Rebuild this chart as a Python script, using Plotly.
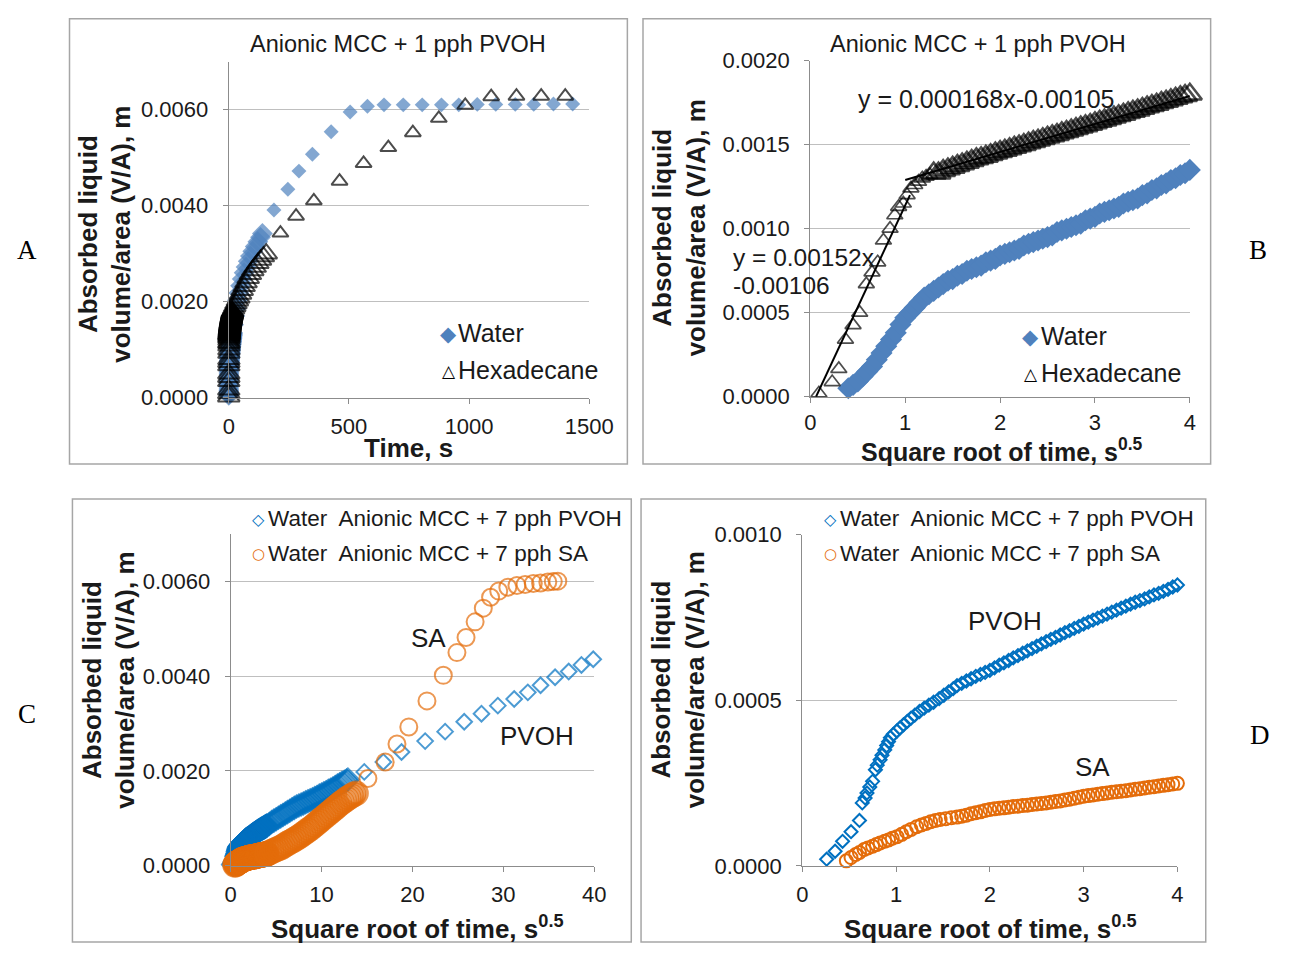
import plotly.graph_objects as go

W, H = 1304, 957
SANS = "Liberation Sans, Arial, sans-serif"
SERIF = "Liberation Serif, Times New Roman, serif"
SYMF = "DejaVu Sans"
TXT = "#1a1a1a"
AXIS = "#8c8c8c"
GRID = "#bfbfbf"
BOX = "#a6a6a6"
C_WATER = "#4f81bd"
C_PVOH = "#0070c0"
C_SA = "#e46c0a"

# ---------------- Anionic MCC + 1 pph PVOH ----------------
# first 16 s of the run, on a square-root-of-time axis
hex_sqrt_t = [0.09, 0.23, 0.30, 0.37, 0.45, 0.52, 0.59, 0.65, 0.71, 0.77, 0.84, 0.89,
              0.93, 0.98, 1.02, 1.06, 1.10, 1.14, 1.18, 1.22, 1.26, 1.30,
              1.35, 1.40, 1.45, 1.50, 1.55, 1.60, 1.65, 1.70, 1.75, 1.80, 1.85, 1.90,
              1.95, 2.00, 2.05, 2.10, 2.15, 2.20, 2.25, 2.30, 2.35, 2.40, 2.45, 2.50,
              2.55, 2.60, 2.65, 2.70, 2.75, 2.80, 2.85, 2.90, 2.95, 3.00, 3.05, 3.10,
              3.15, 3.20, 3.25, 3.30, 3.35, 3.40, 3.45, 3.50, 3.55, 3.60, 3.65, 3.70,
              3.75, 3.80, 3.85, 3.90, 3.95, 4.00]
hex_va = [0.00002, 0.000087, 0.000165, 0.00034, 0.000426, 0.0005, 0.00067, 0.00074,
          0.0008, 0.00093, 0.001, 0.00108, 0.00113, 0.00115, 0.0012, 0.00124, 0.00126,
          0.00128, 0.0013, 0.00131, 0.00132, 0.00133,
          0.00133, 0.001345, 0.001355, 0.001365, 0.001375, 0.001385, 0.001395, 0.001405,
          0.001415, 0.001422, 0.00143, 0.00144, 0.00145, 0.001458, 0.001466, 0.001475,
          0.001484, 0.001492, 0.0015, 0.00151, 0.001518, 0.001526, 0.001535, 0.001544,
          0.001552, 0.00156, 0.00157, 0.001578, 0.001586, 0.001595, 0.001604, 0.001612,
          0.00162, 0.00163, 0.001638, 0.001646, 0.001655, 0.001664, 0.001672, 0.00168,
          0.00169, 0.001698, 0.001706, 0.001715, 0.001724, 0.001732, 0.00174, 0.00175,
          0.001758, 0.001766, 0.001775, 0.001784, 0.001792, 0.0018]

water_sqrt_t = [0.40, 0.45, 0.50, 0.55, 0.60, 0.65, 0.70, 0.75, 0.80, 0.85, 0.90, 0.95,
                1.00, 1.05, 1.10, 1.15, 1.20, 1.25, 1.30, 1.35, 1.40, 1.45, 1.50, 1.55,
                1.60, 1.65, 1.70, 1.75, 1.80, 1.85, 1.90, 1.95, 2.00, 2.05, 2.10, 2.15,
                2.20, 2.25, 2.30, 2.35, 2.40, 2.45, 2.50, 2.55, 2.60, 2.65, 2.70, 2.75,
                2.80, 2.85, 2.90, 2.95, 3.00, 3.05, 3.10, 3.15, 3.20, 3.25, 3.30, 3.35,
                3.40, 3.45, 3.50, 3.55, 3.60, 3.65, 3.70, 3.75, 3.80, 3.85, 3.90, 3.95, 4.00]
water_va = [0.00005, 0.00007, 0.00009, 0.00012, 0.00015, 0.00018, 0.00022, 0.00026,
            0.0003, 0.00034, 0.00038, 0.00043, 0.00047, 0.0005, 0.00053, 0.00056,
            0.00059, 0.00061, 0.00063, 0.00065, 0.00067, 0.00069, 0.0007, 0.00072,
            0.00073, 0.00075, 0.00076, 0.00077, 0.00078, 0.0008, 0.00081, 0.00082,
            0.00084, 0.00085, 0.00086, 0.00087, 0.00088, 0.0009, 0.00091, 0.00092,
            0.00093, 0.00094, 0.00095, 0.00096, 0.00098, 0.00099, 0.001, 0.00101,
            0.00102, 0.00103, 0.00105, 0.00106, 0.00107, 0.00109, 0.0011, 0.00111,
            0.00112, 0.00113, 0.00115, 0.00116, 0.00117, 0.00118, 0.0012, 0.00121,
            0.00123, 0.00124, 0.00126, 0.00127, 0.00129, 0.0013, 0.00132, 0.00133, 0.00135]

# remainder of the run on a plain time axis (s)
hex_t_late = [20, 25, 30, 36, 42, 49, 56, 64, 72, 81, 90, 100, 110, 121, 132, 144, 156,
              215, 280, 354, 461, 561, 664, 766, 874, 984, 1092, 1197, 1300, 1400]
hex_va_late = [0.00185, 0.0019, 0.00196, 0.00202, 0.00208, 0.00216, 0.00224, 0.00232,
               0.0024, 0.00249, 0.00257, 0.00265, 0.00272, 0.0028, 0.00287, 0.00294, 0.003,
               0.00343, 0.00378, 0.0041, 0.00451, 0.00488, 0.00521, 0.00552, 0.00582,
               0.00609, 0.00627, 0.00628, 0.00628, 0.00628]
water_t_late = [20, 25, 30, 36, 42, 49, 56, 64, 72, 81, 90, 100, 110, 121, 132, 140,
                188, 246, 292, 348, 426, 505, 577, 646, 726, 805, 885, 957, 1034, 1111,
                1192, 1269, 1351, 1431]
water_va_late = [0.00152, 0.0017, 0.00186, 0.00203, 0.00218, 0.00233, 0.00247, 0.0026,
                 0.00272, 0.00284, 0.00295, 0.00305, 0.00315, 0.00325, 0.00334, 0.00342,
                 0.00391, 0.00434, 0.00472, 0.00507, 0.00554, 0.00595, 0.00607, 0.0061,
                 0.0061, 0.0061, 0.0061, 0.0061, 0.00611, 0.00611, 0.00611, 0.00611,
                 0.00612, 0.00612]

# linear trend segments through the hexadecane data
fit_steep_x = [0.06, 1.05]
fit_steep_y = [0.0, 0.0012]
fit_slow_x = [1.0, 4.0]
fit_slow_y = [0.00129, 0.00179]

# ---------------- Anionic MCC + 7 pph PVOH / SA, water ----------------
pvoh_sqrt_t = [0.26, 0.35, 0.43, 0.52, 0.61, 0.64, 0.67, 0.69, 0.72, 0.75, 0.78, 0.80,
               0.83, 0.85, 0.88, 0.90, 0.92, 0.94, 0.97, 1.01, 1.04, 1.08, 1.12, 1.16,
               1.20, 1.25, 1.30, 1.35, 1.40, 1.46, 1.51, 1.56, 1.61, 1.65,
               1.70, 1.75, 1.80, 1.85, 1.90, 1.95, 2.00, 2.05, 2.10, 2.15, 2.20, 2.25,
               2.30, 2.35, 2.40, 2.45, 2.50, 2.55, 2.60, 2.65, 2.70, 2.75, 2.80, 2.85,
               2.90, 2.95, 3.00, 3.05, 3.10, 3.15, 3.20, 3.25, 3.30, 3.35, 3.40, 3.45,
               3.50, 3.55, 3.60, 3.65, 3.70, 3.75, 3.80, 3.85, 3.90, 3.95, 4.00,
               4.25, 4.5, 4.75, 5.0, 5.25, 5.5, 5.75, 6.0, 6.25, 6.5, 6.75, 7.0, 7.25,
               7.5, 7.75, 8.0, 8.25, 8.5, 8.75, 9.0, 9.25, 9.5, 9.75, 10.0, 10.25, 10.5,
               10.75, 11.0, 11.25, 11.5, 11.75, 12.0, 12.25, 12.5, 12.75, 12.9,
               14.7, 16.8, 18.8, 21.4, 23.6, 25.7, 27.6, 29.4, 31.2, 32.7, 34.1, 35.7,
               37.2, 38.6, 39.9]
pvoh_va = [0.00002, 0.000044, 0.000074, 0.000103, 0.000137, 0.00019, 0.000205, 0.00022,
           0.000238, 0.000255, 0.00029, 0.000304, 0.00032, 0.000334, 0.00035, 0.000363,
           0.000375, 0.000387, 0.000397, 0.000407, 0.000416, 0.000426, 0.000436,
           0.000446, 0.000455, 0.000466, 0.000476, 0.000485, 0.000494, 0.000505,
           0.000515, 0.000525, 0.000535, 0.000544,
           0.000551, 0.000558, 0.000565, 0.000572, 0.000578, 0.000584, 0.00059, 0.000598,
           0.000606, 0.000613, 0.00062, 0.000628, 0.000635, 0.000642, 0.000649, 0.000656,
           0.000663, 0.00067, 0.000677, 0.000684, 0.00069, 0.000697, 0.000704, 0.00071,
           0.000717, 0.000723, 0.00073, 0.000736, 0.000742, 0.000748, 0.000754, 0.00076,
           0.000766, 0.000772, 0.000778, 0.000784, 0.00079, 0.000796, 0.000801, 0.000806,
           0.000812, 0.000818, 0.000823, 0.000829, 0.000835, 0.000842, 0.000848,
           0.00088, 0.00092, 0.00095, 0.00098, 0.00101, 0.00104, 0.00107, 0.0011,
           0.00113, 0.00116, 0.00119, 0.00122, 0.00125, 0.00127, 0.00129, 0.00131,
           0.00134, 0.00136, 0.00138, 0.0014, 0.00143, 0.00145, 0.00148, 0.0015, 0.00153,
           0.00155, 0.00158, 0.0016, 0.00163, 0.00166, 0.00169, 0.00172, 0.00175, 0.00177,
           0.0018, 0.00182,
           0.00198, 0.00219, 0.0024, 0.00263, 0.00283, 0.00304, 0.00321, 0.00338,
           0.00352, 0.00366, 0.00381, 0.00398, 0.0041, 0.00424, 0.00436]

sa_sqrt_t = [0.47, 0.52, 0.57, 0.61, 0.66, 0.70, 0.75, 0.79, 0.83, 0.88, 0.92, 0.96,
             1.01, 1.06, 1.11, 1.16, 1.22, 1.27, 1.32, 1.37, 1.42, 1.47, 1.53, 1.59, 1.65,
             1.70, 1.75, 1.80, 1.85, 1.90, 1.95, 2.00, 2.05, 2.10, 2.15, 2.20, 2.25,
             2.30, 2.35, 2.40, 2.45, 2.50, 2.55, 2.60, 2.65, 2.70, 2.75, 2.80, 2.85,
             2.90, 2.95, 3.00, 3.05, 3.10, 3.15, 3.20, 3.25, 3.30, 3.35, 3.40, 3.45,
             3.50, 3.55, 3.60, 3.65, 3.70, 3.75, 3.80, 3.85, 3.90, 3.95, 4.00,
             4.25, 4.5, 4.75, 5.0, 5.25, 5.5, 5.75, 6.0, 6.25, 6.5, 6.75, 7.0, 7.25,
             7.5, 7.75, 8.0, 8.25, 8.5, 8.75, 9.0, 9.25, 9.5, 9.75, 10.0, 10.25, 10.5,
             10.75, 11.0, 11.25, 11.5, 11.75, 12.0, 12.25, 12.5, 12.75, 13.0, 13.25,
             13.5, 13.8,
             15.1, 17.0, 18.3, 19.6, 21.6, 23.4, 24.9, 25.9, 26.9, 27.8, 28.6, 29.5,
             30.5, 31.5, 32.4, 33.3, 34.1, 34.9, 35.5, 36.0]
sa_va = [0.000015, 0.000025, 0.000034, 0.00004, 0.000049, 0.000054, 0.000059, 0.000064,
         0.000069, 0.000074, 0.000078, 0.000083, 0.000088, 0.000095, 0.000103, 0.00011,
         0.000118, 0.000123, 0.000128, 0.000133, 0.000137, 0.00014, 0.000142, 0.000145,
         0.000147,
         0.00015, 0.000153, 0.000157, 0.00016, 0.000163, 0.000167, 0.00017, 0.000172,
         0.000174, 0.000175, 0.000177, 0.000179, 0.00018, 0.000182, 0.000183, 0.000185,
         0.000187, 0.000188, 0.00019, 0.000192, 0.000194, 0.000196, 0.000199, 0.000201,
         0.000204, 0.000207, 0.00021, 0.000212, 0.000214, 0.000216, 0.000218, 0.00022,
         0.000222, 0.000224, 0.000225, 0.000227, 0.000229, 0.000231, 0.000233, 0.000235,
         0.000237, 0.000239, 0.000241, 0.000243, 0.000245, 0.000247, 0.000249,
         0.00027, 0.0003, 0.00032, 0.00034, 0.00036, 0.00038, 0.00041, 0.00044, 0.00047,
         0.0005, 0.00052, 0.00055, 0.00058, 0.00061, 0.00064, 0.00068, 0.00071, 0.00075,
         0.00078, 0.00082, 0.00086, 0.0009, 0.00094, 0.00098, 0.00102, 0.00106, 0.0011,
         0.00114, 0.00118, 0.00122, 0.00126, 0.0013, 0.00134, 0.00137, 0.00141, 0.00144,
         0.00147, 0.0015, 0.00153,
         0.00184, 0.00219, 0.00257, 0.00293, 0.00348, 0.00402, 0.0045, 0.00482, 0.00515,
         0.00544, 0.00567, 0.0058, 0.00588, 0.00592, 0.00594, 0.00596, 0.00597, 0.00599,
         0.006, 0.00601]


# pixel -> paper helpers
def fx(px):
    return px / W


def fy(py):
    return 1 - py / H


# panel A uses time, i.e. the square of the early sqrt-time readings
hex_t_all = [s * s for s in hex_sqrt_t] + hex_t_late
hex_va_all = hex_va + hex_va_late
water_t_all = [s * s for s in water_sqrt_t] + water_t_late
water_va_all = water_va + water_va_late

# panel D shows only the first 4 s^0.5
d_pvoh = [(x, y) for x, y in zip(pvoh_sqrt_t, pvoh_va) if x <= 4.0]
d_sa = [(x, y) for x, y in zip(sa_sqrt_t, sa_va) if x <= 4.0]

# densely logged stretches overlap into thick bands: draw them larger
hex_a_size = [19 if t <= 160 else 14 for t in hex_t_all]
water_a_size = [16 if t <= 150 else 11.5 for t in water_t_all]
hex_b_size = [21 if s >= 1.3 else 14 for s in hex_sqrt_t]
hex_b_lw = [2.6 if s >= 1.3 else 1.7 for s in hex_sqrt_t]
pvoh_c_size = [16 if s < 14 else 12 for s in pvoh_sqrt_t]
pvoh_c_lw = [3 if s < 14 else 2 for s in pvoh_sqrt_t]
sa_c_size = [22 if s < 14 else 17 for s in sa_sqrt_t]
sa_c_lw = [3.5 if s < 14 else 2 for s in sa_sqrt_t]

fig = go.Figure()

# ---- A ----
fig.add_trace(go.Scatter(x=water_t_all, y=water_va_all, mode="markers", xaxis="x", yaxis="y",
                         marker=dict(symbol="diamond", size=water_a_size, color=C_WATER,
                                     line=dict(width=0)),
                         cliponaxis=False, name="Water"))
fig.add_trace(go.Scatter(x=hex_t_all, y=hex_va_all, mode="markers", xaxis="x", yaxis="y",
                         marker=dict(symbol="triangle-up-open", size=hex_a_size, color="black",
                                     line=dict(width=2, color="black")),
                         cliponaxis=False, name="Hexadecane"))

# ---- B ----
fig.add_trace(go.Scatter(x=water_sqrt_t, y=water_va, mode="markers", xaxis="x2", yaxis="y2",
                         marker=dict(symbol="diamond", size=17, color=C_WATER, line=dict(width=0)),
                         cliponaxis=False, name="Water"))
fig.add_trace(go.Scatter(x=fit_steep_x, y=fit_steep_y, mode="lines", xaxis="x2", yaxis="y2",
                         line=dict(color="black", width=2), cliponaxis=False, name="fit 1"))
fig.add_trace(go.Scatter(x=fit_slow_x, y=fit_slow_y, mode="lines", xaxis="x2", yaxis="y2",
                         line=dict(color="black", width=2), cliponaxis=False, name="fit 2"))
fig.add_trace(go.Scatter(x=hex_sqrt_t, y=hex_va, mode="markers", xaxis="x2", yaxis="y2",
                         marker=dict(symbol="triangle-up-open", size=hex_b_size, color="black",
                                     line=dict(width=hex_b_lw, color="black")),
                         cliponaxis=False, name="Hexadecane"))

# ---- C ----
fig.add_trace(go.Scatter(x=pvoh_sqrt_t, y=pvoh_va, mode="markers", xaxis="x3", yaxis="y3",
                         marker=dict(symbol="diamond-open", size=pvoh_c_size, color=C_PVOH,
                                     line=dict(width=pvoh_c_lw, color=C_PVOH)),
                         cliponaxis=False, name="PVOH"))
fig.add_trace(go.Scatter(x=sa_sqrt_t, y=sa_va, mode="markers", xaxis="x3", yaxis="y3",
                         marker=dict(symbol="circle-open", size=sa_c_size, color=C_SA,
                                     line=dict(width=sa_c_lw, color=C_SA)),
                         cliponaxis=False, name="SA"))

# ---- D ----
fig.add_trace(go.Scatter(x=[p[0] for p in d_pvoh], y=[p[1] for p in d_pvoh], mode="markers",
                         xaxis="x4", yaxis="y4",
                         marker=dict(symbol="diamond-open", size=10, color=C_PVOH,
                                     line=dict(width=2, color=C_PVOH)),
                         cliponaxis=False, name="PVOH"))
fig.add_trace(go.Scatter(x=[p[0] for p in d_sa], y=[p[1] for p in d_sa], mode="markers",
                         xaxis="x4", yaxis="y4",
                         marker=dict(symbol="circle-open", size=13, color=C_SA,
                                     line=dict(width=2, color=C_SA)),
                         cliponaxis=False, name="SA"))


def xaxis(dom, anchor, rng, dtick, standoff=4):
    return dict(domain=dom, anchor=anchor, range=rng, tick0=0, dtick=dtick,
                showgrid=False, zeroline=False, showline=True, linecolor=AXIS, linewidth=1.3,
                ticks="outside", ticklen=5, tickwidth=1.3, tickcolor=AXIS,
                tickfont=dict(family=SANS, size=22, color=TXT), ticklabelstandoff=standoff)


def yaxis(dom, anchor, rng, dtick):
    return dict(domain=dom, anchor=anchor, range=rng, tick0=0, dtick=dtick, tickformat=".4f",
                showgrid=True, gridcolor=GRID, gridwidth=1.3, zeroline=False,
                showline=True, linecolor=AXIS, linewidth=1.3,
                ticks="outside", ticklen=5, tickwidth=1.3, tickcolor=AXIS,
                tickfont=dict(family=SANS, size=22, color=TXT), ticklabelstandoff=10)


fig.update_layout(
    width=W, height=H, margin=dict(l=0, r=0, t=0, b=0),
    paper_bgcolor="white", plot_bgcolor="white", showlegend=False,
    xaxis=xaxis([fx(228), fx(597)], "y", [0, 1500], 500),
    yaxis=yaxis([fy(396), fy(51)], "x", [0, 0.007], 0.002),
    xaxis2=xaxis([fx(823.3), fx(1211.7)], "y2", [0, 4], 1, standoff=1),
    yaxis2=yaxis([fy(395), fy(50)], "x2", [0, 0.002], 0.0005),
    xaxis3=xaxis([fx(230), fx(602)], "y3", [0, 40], 10),
    yaxis3=yaxis([fy(876.5), fy(536.3)], "x3", [0, 0.007], 0.002),
    xaxis4=xaxis([fx(815), fx(1199)], "y4", [0, 4], 1),
    yaxis4=yaxis([fy(876.7), fy(536.7)], "x4", [0, 0.001], 0.0005),
)

# chart-area borders
for x0, y0, x1, y1 in [(65, 7, 636, 464), (652, 7, 1233, 464),
                       (68, 500, 640, 955), (650, 500, 1228, 955)]:
    fig.add_shape(type="rect", xref="paper", yref="paper", x0=fx(x0), x1=fx(x1),
                  y0=fy(y1), y1=fy(y0), line=dict(color=BOX, width=1.5), layer="below")


def ann(text, x, y, size, xanchor="center", angle=0, family=SANS, color=TXT):
    fig.add_annotation(text=text, x=fx(x), y=fy(y), xref="paper", yref="paper",
                       showarrow=False, xanchor=xanchor, yanchor="middle", textangle=angle,
                       font=dict(family=family, size=size, color=color))


YTITLE = "<b>Absorbed liquid<br>volume/area (V/A), m</b>"
XTITLE = "<b>Square root of time, s<sup>0.5</sup></b>"

# panel letters
ann("A", 21, 244, 27, family=SERIF, color="black")
ann("B", 1281, 244, 27, family=SERIF, color="black")
ann("C", 21, 721, 27, family=SERIF, color="black")
ann("D", 1284, 742, 27, family=SERIF, color="black")

# chart titles
ann("Anionic MCC + 1 pph PVOH", 401, 33, 23.5)
ann("Anionic MCC + 1 pph PVOH", 995, 33, 23.5)

# axis titles
ann(YTITLE, 101, 228, 26, angle=-90)
ann(YTITLE, 689, 222, 26, angle=-90)
ann(YTITLE, 105, 686, 26, angle=-90)
ann(YTITLE, 688, 686, 26, angle=-90)
ann("<b>Time, s</b>", 412, 448, 26)
ann(XTITLE, 1019, 450, 25)
ann(XTITLE, 421, 940, 26)
ann(XTITLE, 1008, 940, 26)

# legends: key symbol + entry text
legend_rows = [
    ("◆", C_WATER, 21, 453, 330, "Water", 25, 461),
    ("△", "black", 17, 453, 368, "Hexadecane", 25, 461),
    ("◆", C_WATER, 21, 1049, 333, "Water", 25, 1057),
    ("△", "black", 17, 1049, 371, "Hexadecane", 25, 1057),
    ("◇", C_PVOH, 16, 258, 520, "Water\u00a0 Anionic MCC + 7 pph PVOH", 22.5, 266),
    ("○", C_SA, 15, 258, 556, "Water\u00a0 Anionic MCC + 7 pph SA", 22.5, 266),
    ("◇", C_PVOH, 16, 844, 520, "Water\u00a0 Anionic MCC + 7 pph PVOH", 22.5, 852),
    ("○", C_SA, 15, 844, 556, "Water\u00a0 Anionic MCC + 7 pph SA", 22.5, 852),
]
for ch, col, ssize, sx, yy, label, tsize, tx in legend_rows:
    ann(ch, sx, yy + 1, ssize, family=SYMF, color=col)
    ann(label, tx, yy, tsize, xanchor="left")

# series labels and trend-line equations
ann("SA", 432, 643, 26)
ann("PVOH", 543, 743, 26)
ann("PVOH", 1023, 625, 26)
ann("SA", 1112, 775, 26)
ann("y = 0.000168x-0.00105", 1003, 89, 25)
ann("y = 0.00152x", 742, 252, 24.5, xanchor="left")
ann("-0.00106", 742, 281, 24.5, xanchor="left")

fig.write_html("out.html",
               post_script="document.body.style.margin='0';"
                           "document.body.style.overflow='hidden';")
